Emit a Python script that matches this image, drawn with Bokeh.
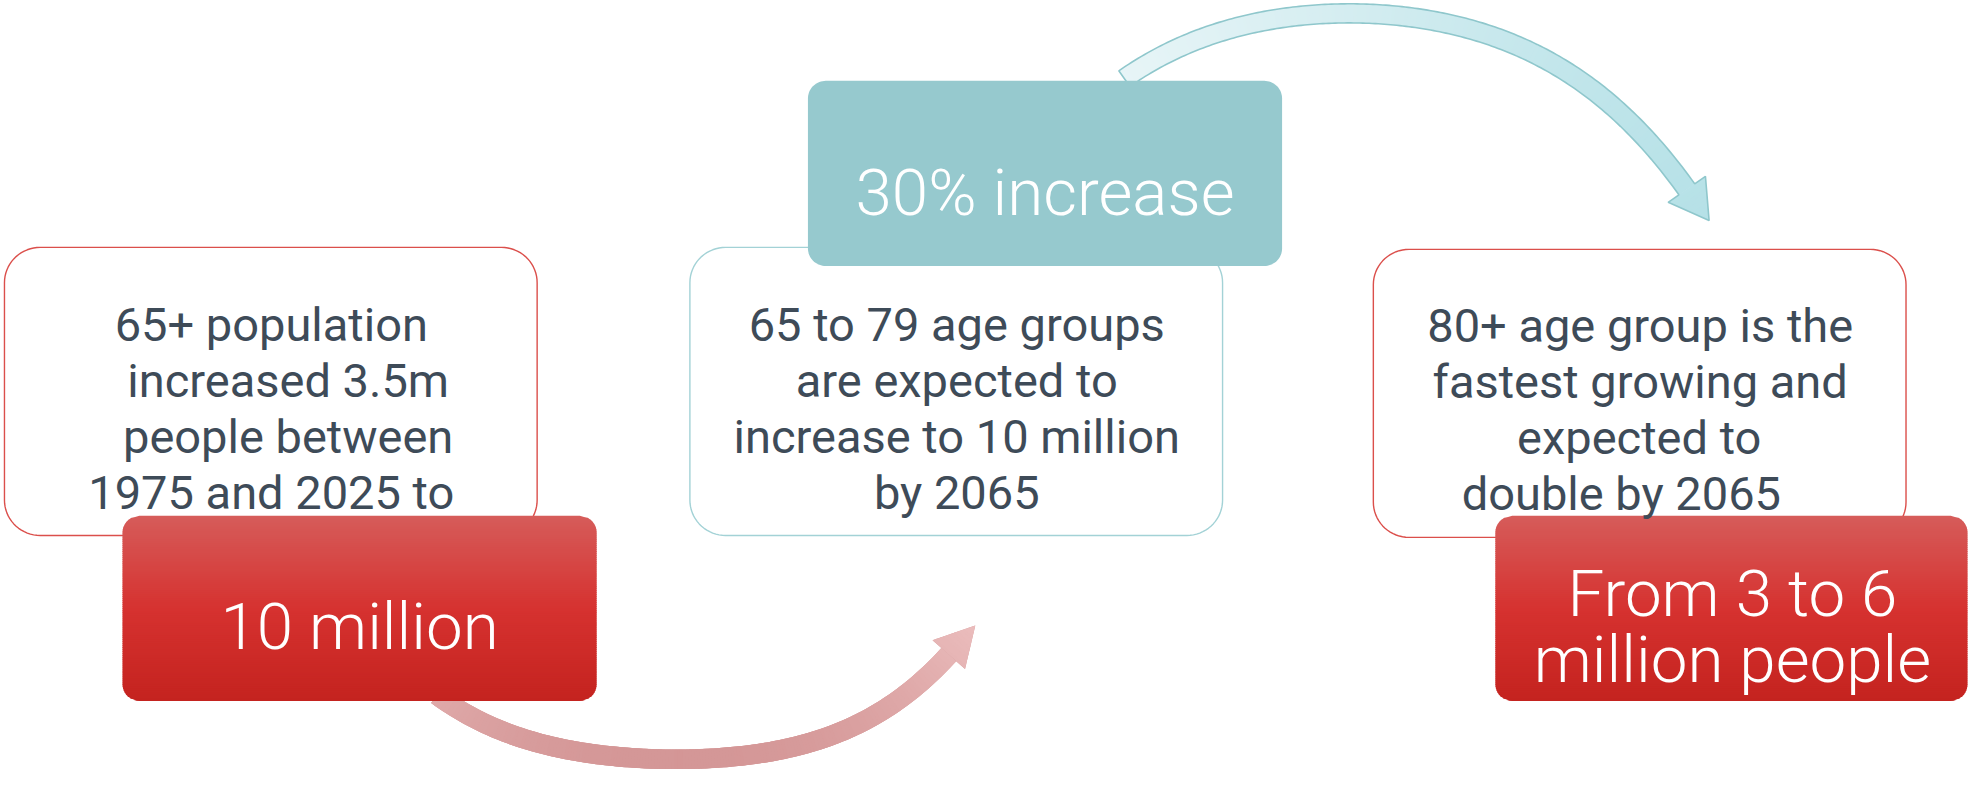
import numpy as np
from bokeh.plotting import figure
from bokeh.models import Range1d
from bokeh.core.properties import value
from bokeh.embed import file_html
from bokeh.resources import INLINE

# ---------------- content ----------------
box1_lines = ["65+ population", "increased 3.5m", "people between", "1975 and 2025 to"]
box2_lines = ["65 to 79 age groups", "are expected to", "increase to 10 million", "by 2065"]
box3_lines = ["80+ age group is the", "fastest growing and", "expected to", "double by 2065"]
red1_lines = ["10 million"]
teal_lines = ["30% increase"]
red3_lines = ["From 3 to 6", "million people"]

TEXT_DARK = "#3e4b58"
BODY_FONT = value("Roboto")
LIGHT_FONT = value("'Roboto Light', Roboto")

p = figure(width=1969, height=773, x_range=Range1d(0, 1985), y_range=Range1d(789, 0),
           output_backend="svg", toolbar_location=None, min_border=0)
p.axis.visible = False
p.grid.visible = False
p.outline_line_color = None
p.background_fill_color = "white"
p.border_fill_color = "white"


def hex2rgb(h):
    h = h.lstrip("#")
    return np.array([int(h[i:i + 2], 16) for i in (0, 2, 4)], float)


def lerp_color(stops, t):
    t = min(max(t, 0.0), 1.0)
    for (t0, c0), (t1, c1) in zip(stops[:-1], stops[1:]):
        if t <= t1:
            f = 0 if t1 == t0 else (t - t0) / (t1 - t0)
            c = hex2rgb(c0) * (1 - f) + hex2rgb(c1) * f
            return "#%02x%02x%02x" % tuple(int(round(v)) for v in c)
    return stops[-1][1]


def rounded_rect(x0, y0, x1, y1, r, n=18):
    xs, ys = [], []
    corners = [(x1 - r, y0 + r, -90, 0), (x1 - r, y1 - r, 0, 90),
               (x0 + r, y1 - r, 90, 180), (x0 + r, y0 + r, 180, 270)]
    for cx, cy, a0, a1 in corners:
        for a in np.linspace(np.radians(a0), np.radians(a1), n):
            xs.append(cx + r * np.cos(a))
            ys.append(cy + r * np.sin(a))
    return xs, ys


def inset(y, y0, y1, r):
    if y < y0 + r:
        d = y0 + r - y
    elif y > y1 - r:
        d = y - (y1 - r)
    else:
        return 0.0
    d = min(d, r)
    return r - np.sqrt(max(r * r - d * d, 0.0))


def gradient_box(x0, y0, x1, y1, r, stops, step=2.0):
    ys = np.arange(y0, y1, step).tolist() + [y1]
    pxs, pys, cols = [], [], []
    for ya, yb in zip(ys[:-1], ys[1:]):
        yb2 = min(yb + 0.8, y1)
        ia, ib = inset(ya, y0, y1, r), inset(yb2, y0, y1, r)
        pxs.append([x0 + ia, x0 + ib, x1 - ib, x1 - ia])
        pys.append([ya, yb2, yb2, ya])
        cols.append(lerp_color(stops, ((ya + yb) / 2 - y0) / (y1 - y0)))
    p.patches(pxs, pys, fill_color=cols, line_color=None)


def arrow(px, py, deg, x0, x1, w, head_hw, head_len, color_fn, outline=None, n=180):
    coef = np.polyfit(px, py, deg)
    xs = np.linspace(x0, x1, n)
    c = np.column_stack([xs, np.polyval(coef, xs)])
    slope = np.polyval(np.polyder(coef), xs)
    tg = np.column_stack([np.ones(n), slope])
    tg /= np.linalg.norm(tg, axis=1)[:, None]
    nrm = np.column_stack([-tg[:, 1], tg[:, 0]])
    L = c + nrm * w / 2
    R = c - nrm * w / 2
    d, nn, e = tg[-1], nrm[-1], c[-1]
    tip = e + d * head_len
    wl = e + nn * head_hw
    wr = e - nn * head_hw
    poly = np.vstack([L, wl, tip, wr, R[::-1]])
    p.patch(poly[:, 0], poly[:, 1], fill_color=color_fn(c[n // 2]), line_color=None)
    pxs, pys, cols = [], [], []
    for i in range(n - 1):
        j = min(i + 2, n - 1)
        pxs.append([L[i, 0], L[j, 0], R[j, 0], R[i, 0]])
        pys.append([L[i, 1], L[j, 1], R[j, 1], R[i, 1]])
        cols.append(color_fn(c[i]))
    # arrow head in strips along its length
    m = 12
    for k in range(m):
        a, b = k / m, min((k + 1.3) / m, 1.0)
        la, lb = wl + (tip - wl) * a, wl + (tip - wl) * b
        ra, rb = wr + (tip - wr) * a, wr + (tip - wr) * b
        pxs.append([la[0], lb[0], rb[0], ra[0]])
        pys.append([la[1], lb[1], rb[1], ra[1]])
        cols.append(color_fn(e + d * head_len * (a + b) / 2))
    p.patches(pxs, pys, fill_color=cols, line_color=None)
    if outline:
        p.patch(poly[:, 0], poly[:, 1], fill_color=None, line_color=outline, line_width=1.6)


# ---------------- arrows (under boxes) ----------------
red_px = [448, 536, 673, 760, 787, 860, 927, 956]
red_py = [715, 755, 777, 767, 764, 742, 697, 667]
red_stops = [(0.0, "#ebbdbd"), (1.0, "#d29393")]
arrow(red_px, red_py, 4, 440, 956, 20, 22, 40,
      lambda pt: lerp_color(red_stops, (pt[1] - 637) / 150))

teal_px = [1132, 1200, 1347, 1467, 1560, 1613, 1665, 1700]
teal_py = [80, 44, 11.5, 27.5, 61, 97, 148, 193]
teal_stops = [(0.0, "#e8f5f7"), (1.0, "#b6e1e7")]
arrow(teal_px, teal_py, 4, 1133, 1700, 19.5, 23, 39,
      lambda pt: lerp_color(teal_stops, (pt[0] - 1120) / 600), outline="#8fc7cc")

# ---------------- white boxes ----------------
RED_LINE = "#db4f4b"
for (x0, y0, x1, y1), col in [((4, 252, 541, 546), RED_LINE),
                              ((695, 252, 1232, 546), "#a3d2d6"),
                              ((1384, 254, 1921, 548), RED_LINE)]:
    xs, ys = rounded_rect(x0, y0, x1, y1, 36)
    p.patch(xs, ys, fill_color="white", line_color=col, line_width=1.4)

# ---------------- coloured boxes ----------------
RED_STOPS = [(0.0, "#d65c5a"), (0.5, "#d63230"), (1.0, "#c4231f")]
gradient_box(123, 526, 601, 715, 17, RED_STOPS)
gradient_box(1507, 526, 1983, 715, 17, RED_STOPS)
xs, ys = rounded_rect(814, 82, 1292, 271, 18)
p.patch(xs, ys, fill_color="#96c9ce", line_color=None)

# ---------------- texts ----------------
def lines(txts, xs_, ys_, size, color, font):
    p.text(x=xs_, y=ys_, text=txts, text_align="center", text_baseline="alphabetic",
           text_font_size=size, text_color=color, text_font=font)

rows = [331, 388, 445, 502]
lines(box1_lines, [273, 290, 290, 273], rows, "47px", TEXT_DARK, BODY_FONT)
lines(box2_lines, [964] * 4, rows, "47px", TEXT_DARK, BODY_FONT)
lines(box3_lines, [1653, 1653, 1652, 1634], [r + 1 for r in rows], "47px", TEXT_DARK, BODY_FONT)
lines(red1_lines, [362], [639], "65.5px", "white", LIGHT_FONT)
lines(teal_lines, [1053], [196], "65.5px", "white", LIGHT_FONT)
lines(red3_lines, [1746, 1746], [605, 673], "65.5px", "white", LIGHT_FONT)

open("out.html", "w").write(file_html(p, INLINE))
